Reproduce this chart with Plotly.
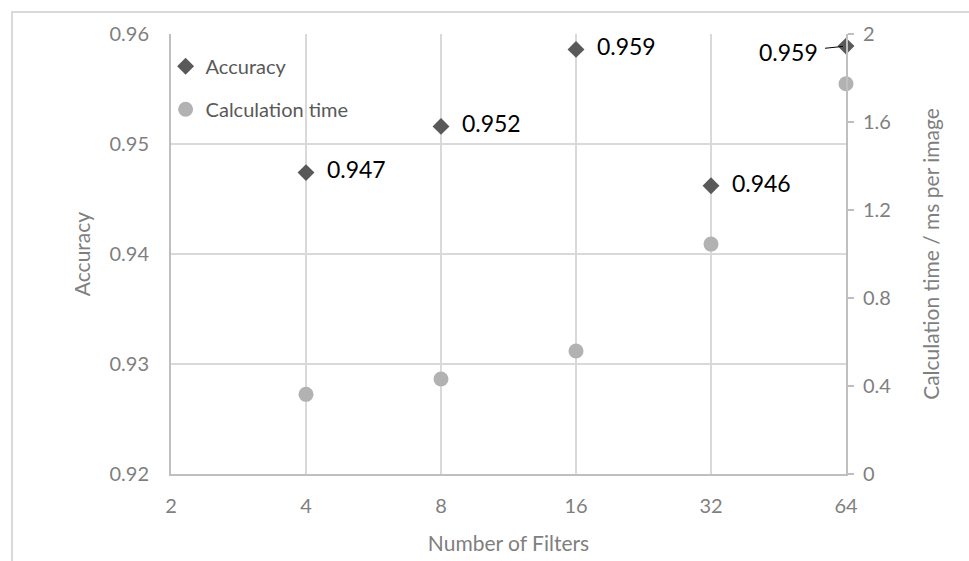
import math
import plotly.graph_objects as go

# Number of filters vs. accuracy and calculation time
filters = [4, 8, 16, 32, 64]
accuracy = [0.9474, 0.9516, 0.9586, 0.9462, 0.9589]
calc_time = [0.362, 0.432, 0.559, 1.045, 1.774]

x_ticks = [2, 4, 8, 16, 32, 64]
acc_ticks = [0.92, 0.93, 0.94, 0.95, 0.96]
time_ticks = [0, 0.4, 0.8, 1.2, 1.6, 2]

FONT = "Lato"
GRAY_TEXT = "#7f7f7f"
AXIS_LINE = "#bfbfbf"
GRID = "#d9d9d9"

fig = go.Figure()

# right-aligned labels for all but the last point, which gets a leader line
fig.add_trace(go.Scatter(
    x=filters, y=accuracy, mode="markers+text", name="Accuracy",
    legendgroup="acc",
    marker=dict(symbol="diamond", size=13, color="#595959"),
    text=[f"  {v:.3f}" if i < len(filters) - 1 else "" for i, v in enumerate(accuracy)],
    textposition="middle right",
    textfont=dict(family=FONT, size=23, color="#000000"),
    cliponaxis=False,
))
fig.add_trace(go.Scatter(
    x=filters, y=calc_time, mode="markers", name="Calculation time",
    legendgroup="time",
    marker=dict(symbol="circle", size=15, color="#b2b2b2"),
    yaxis="y2", cliponaxis=False,
))

fig.add_annotation(
    x=math.log10(filters[-1]), y=accuracy[-1], xref="x", yref="y",
    text=f"{accuracy[-1]:.3f}", showarrow=True, arrowhead=0,
    arrowwidth=1, arrowcolor="#000000", standoff=3, borderpad=7,
    ax=-58, ay=6, font=dict(family=FONT, size=23, color="#000000"),
)

# chart-area frame
fig.add_shape(type="rect", xref="paper", yref="paper",
              x0=-0.2356, x1=1.4, y0=-0.6, y1=1.05,
              line=dict(color=GRID, width=2), fillcolor="rgba(0,0,0,0)", layer="below")

fig.update_layout(
    width=969, height=561,
    margin=dict(l=171, r=123, t=34, b=87),
    paper_bgcolor="white", plot_bgcolor="white",
    font=dict(family=FONT, size=20, color=GRAY_TEXT),
    showlegend=True,
    legend=dict(x=-0.008, y=0.971, xanchor="left", yanchor="top",
                bgcolor="rgba(255,255,255,0)", font=dict(size=20, color="#595959"),
                itemwidth=30, tracegroupgap=14),
    xaxis=dict(
        type="log", range=[math.log10(x_ticks[0]), math.log10(x_ticks[-1])],
        tickvals=x_ticks, ticktext=[str(t) for t in x_ticks],
        showgrid=True, gridcolor=GRID, gridwidth=2,
        showline=True, linecolor=AXIS_LINE, linewidth=2, mirror=False,
        ticks="", ticklabelstandoff=13, automargin=False,
        title=dict(text="Number of Filters", font=dict(size=21, color=GRAY_TEXT), standoff=20),
        zeroline=False,
    ),
    yaxis=dict(
        range=[acc_ticks[0], acc_ticks[-1]], tickvals=acc_ticks,
        ticktext=[f"{t:.2f}" for t in acc_ticks],
        showgrid=True, gridcolor=GRID, gridwidth=2,
        showline=True, linecolor=AXIS_LINE, linewidth=2,
        ticks="", ticklabelstandoff=16, automargin=False,
        title=dict(text="Accuracy", font=dict(size=21, color=GRAY_TEXT), standoff=13),
        zeroline=False,
    ),
    yaxis2=dict(
        range=[time_ticks[0], time_ticks[-1]], tickvals=time_ticks,
        ticktext=[f"{t:g}" for t in time_ticks],
        overlaying="y", side="right", showgrid=False,
        showline=True, linecolor=AXIS_LINE, linewidth=2,
        ticks="outside", ticklen=6, tickcolor=AXIS_LINE, tickwidth=2,
        ticklabelstandoff=5, automargin=False,
        title=dict(text="Calculation time / ms per image", font=dict(size=21, color=GRAY_TEXT), standoff=34),
        zeroline=False,
    ),
)

fig.write_html("out.html")
